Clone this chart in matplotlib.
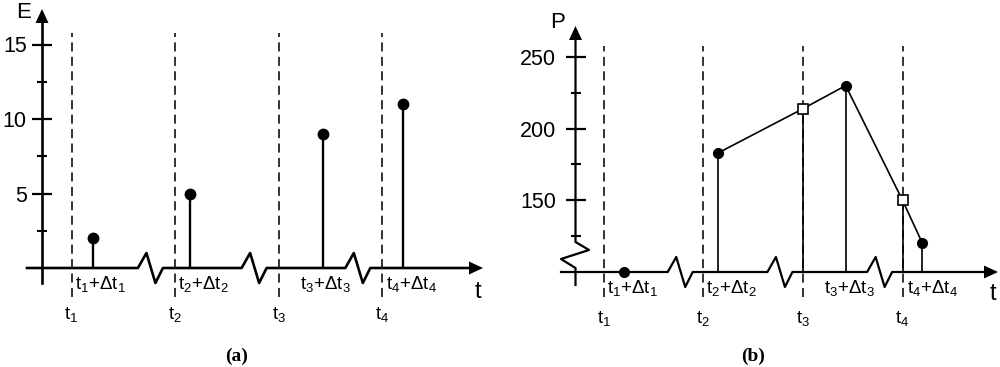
import numpy as np
import matplotlib.pyplot as plt
from matplotlib.patches import Polygon

plt.rcParams['font.family'] = ['Liberation Sans', 'DejaVu Sans']
plt.rcParams['mathtext.fontset'] = 'custom'
plt.rcParams['mathtext.rm'] = 'Liberation Sans'
plt.rcParams['mathtext.it'] = 'Liberation Sans:italic'

# time positions (arbitrary units, y axis at t=0)
t_marks = [2.85, 12.8, 22.85, 32.8]        # t1..t4 (dashed lines)
t_events = [4.9, 14.3, 27.1, 34.8]         # t_i + dt_i
label_x = [3.2, 13.1, 24.9, 33.2]          # left edge of t_i+dt_i labels
breaks = [9.25, 19.25, 29.25]              # axis breaks on t

# panel (a)
E_vals = [2, 5, 9, 11]
E_major = [5, 10, 15]
E_minor = [2.5, 7.5, 12.5]

# panel (b)
P_base = 100
P_vals = [100, 183, 230, 120]              # at t_events
P_marks = [214, 150]                       # at t3, t4 (squares)
P_major = [150, 200, 250]
P_minor = [125, 175, 225]

mark_labels = ['t$_%d$' % (i + 1) for i in range(4)]
event_labels = ['t$_%d$+Δt$_%d$' % (i + 1, i + 1) for i in range(4)]

W, H = 1000, 367
fig = plt.figure(figsize=(W / 100, H / 100), dpi=100)

# zigzag of an axis break, in pixels (dx along axis, dy across)
zigzag = [(0, 0), (8.5, 15), (17.5, -15), (25, 0)]


def panel(span, origin, kx, ky, base):
    x0, y0 = origin
    ax = fig.add_axes([span[0] / W, 0, (span[1] - span[0]) / W, 1])
    ax.set_xlim((span[0] - x0) / kx, (span[1] - x0) / kx)
    ax.set_ylim(base - (H - y0) / ky, base + y0 / ky)
    ax.patch.set_visible(False)
    for s in ax.spines.values():
        s.set_visible(False)
    ax.spines['left'].set_position(('data', 0))
    ax.set_xticks([])
    fx = lambda p: (p - x0) / kx
    fy = lambda p: base + (y0 - p) / ky
    return ax, fx, fy


def time_axis(ax, fx, kx, ky, base, start_px, tip_px, lw):
    xs, ys = [fx(start_px)], [base]
    for b in breaks:
        for dx, dy in zigzag:
            xs.append(b + dx / kx)
            ys.append(base + dy / ky)
    xs.append(fx(tip_px - 10))
    ys.append(base)
    ax.plot(xs, ys, color='black', lw=lw, clip_on=False)
    ax.add_patch(Polygon([[fx(tip_px), base], [fx(tip_px - 14), base + 6.5 / ky],
                          [fx(tip_px - 14), base - 6.5 / ky]], closed=True,
                         color='black', lw=0, clip_on=False))


def value_arrow(ax, kx, fy, tip_px):
    ax.add_patch(Polygon([[0, fy(tip_px)], [-6.5 / kx, fy(tip_px + 14)],
                          [6.5 / kx, fy(tip_px + 14)]], closed=True,
                         color='black', lw=0, clip_on=False))


def ticks(ax, major, minor, pad):
    ax.set_yticks(major)
    ax.set_yticks(minor, minor=True)
    ax.tick_params(axis='y', which='major', direction='inout', length=14,
                   width=1.6, labelsize=15.5, pad=pad, colors='black')
    ax.tick_params(axis='y', which='minor', direction='inout', length=7,
                   width=1.5)


def labels(ax, base, dash_lo, dash_hi):
    ax.vlines(t_marks, dash_lo, dash_hi, colors='#222222', lw=1.3,
              linestyles=(0, (5, 3)))
    for x, s in zip(t_marks, mark_labels):
        ax.annotate(s, (x, base), xytext=(0, -37), textcoords='offset pixels',
                    ha='center', va='top', fontsize=13.5)
    for x, s in zip(label_x, event_labels):
        ax.annotate(s, (x, base), xytext=(0, -6), textcoords='offset pixels',
                    ha='left', va='top', fontsize=13.5)


# ---- (a) ----
kx, ky = 10.37, 14.9
ax, fx, fy = panel((0, 500), (42, 268), kx, ky, 0)
time_axis(ax, fx, kx, ky, 0, 27, 483, 1.9)
ax.plot([0, 0], [fy(283), fy(22)], color='black', lw=1.9)
value_arrow(ax, kx, fy, 9)
ticks(ax, E_major, E_minor, 4)
labels(ax, 0, fy(297), fy(33))
ax.vlines(t_events, 0, E_vals, colors='black', lw=1.7)
ax.plot(t_events, E_vals, 'o', color='black', ms=7.5)
fig.text(478 / W, 1 - 292 / H, 't', fontsize=17, ha='center', va='center')
fig.text(24 / W, 1 - 12 / H, 'E', fontsize=16, ha='center', va='center')

# ---- (b) ----
kx, ky = 9.97, 1.434
ax, fx, fy = panel((500, 1000), (575.5, 272), kx, ky, P_base)
time_axis(ax, fx, kx, ky, P_base, 561, 998, 1.6)
# broken value axis
ax.plot([0, 0, 13.5 / kx, -14.5 / kx, 0, 0],
        [fy(38), fy(242), fy(250), fy(259), fy(268), fy(285)],
        color='black', lw=1.6)
value_arrow(ax, kx, fy, 26)
ticks(ax, P_major, P_minor, 7)
labels(ax, P_base, fy(297), fy(46))
ax.vlines(t_events[1:], P_base, P_vals[1:], colors='black', lw=1.2)
ax.vlines(t_marks[2:], P_base, P_marks, colors='black', lw=1.2)
line_x = [t_events[1], t_marks[2], t_events[2], t_marks[3], t_events[3]]
line_y = [P_vals[1], P_marks[0], P_vals[2], P_marks[1], P_vals[3]]
ax.plot(line_x, line_y, color='black', lw=1.2)
ax.plot(t_events, P_vals, 'o', color='black', ms=7, zorder=4)
ax.plot(t_marks[2:], P_marks, 's', mfc='white', mec='black', mew=1.2,
        ms=7.5, zorder=4)
fig.text(993 / W, 1 - 294 / H, 't', fontsize=17, ha='center', va='center')
fig.text(558 / W, 1 - 22 / H, 'P', fontsize=16, ha='center', va='center')

for x, s in [(237, '(a)'), (753, '(b)')]:
    fig.text(x / W, 1 - 356 / H, s, fontsize=14, fontweight='bold',
             family='Liberation Serif', ha='center', va='center')

fig.savefig('out.png', dpi=100)
